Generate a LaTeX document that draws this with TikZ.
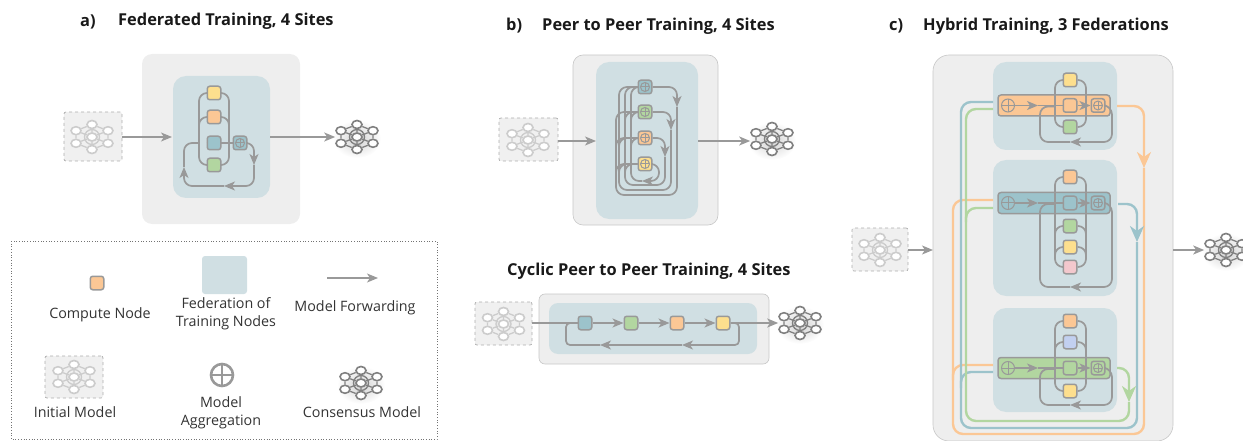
\documentclass[tikz,border=0pt]{standalone}
\usepackage{fontspec}
\setmainfont{Open Sans}
\usetikzlibrary{arrows.meta,shapes.geometric}
\definecolor{gcol}{HTML}{999999}
\definecolor{panelc}{HTML}{EEEEEE}
\definecolor{fedc}{HTML}{D0DFE3}
\definecolor{cblue}{HTML}{9CC3CB}
\definecolor{cgreen}{HTML}{B2D6A0}
\definecolor{corange}{HTML}{FBC795}
\definecolor{cyellow}{HTML}{FDDF8E}
\definecolor{cpink}{HTML}{F3C8CD}
\definecolor{cperi}{HTML}{C2D0F0}
\definecolor{txt}{HTML}{333333}
\pgfdeclarelayer{panel}
\pgfdeclarelayer{wires}
\pgfsetlayers{panel,wires,main}
\tikzset{
 outerbox/.style={fill=panelc,draw=none,rounded corners=10pt},
 fedbox/.style={fill=fedc,draw=none,rounded corners=13pt},
 cnode/.style={draw=gcol,line width=1.5pt,rounded corners=2.5pt,minimum size=13.5pt,inner sep=0pt},
 band/.style={draw=gcol,line width=1.5pt,rounded corners=3pt,minimum width=112pt,minimum height=21pt,inner sep=0pt},
 oplus/.style={circle,draw=gcol,line width=1pt,inner sep=0pt,minimum size=#1,
   path picture={\draw[gcol,line width=1pt] (path picture bounding box.north)--(path picture bounding box.south) (path picture bounding box.west)--(path picture bounding box.east);}},
 oplusbig/.style={circle,draw=gcol,line width=2.6pt,inner sep=0pt,minimum size=#1,
   path picture={\draw[gcol,line width=2.6pt] (path picture bounding box.north)--(path picture bounding box.south) (path picture bounding box.west)--(path picture bounding box.east);}},
 wire/.style={gcol,line width=1.7pt,rounded corners=8pt},
 arr/.style={-{Stealth[length=11pt,width=9pt,inset=3pt]}},
 fat/.style={line width=2.4pt,rounded corners=10pt},
 bigarr/.style={-{Stealth[length=16pt,width=14pt,inset=5pt]}},
 initbox/.style={fill=black!6,draw=black!32,dashed,line width=.7pt,rounded corners=2pt,inner sep=0pt},
 netn/.style={ellipse,fill=white,draw=#1,line width=1.6pt,minimum width=10pt,minimum height=8pt,inner sep=0pt},
 tlabel/.style={text=txt,font=\fontsize{14.3}{18}\selectfont,align=center,inner sep=0pt},
 ttl/.style={text=black!90,font=\fontsize{16.4}{18}\selectfont\bfseries,anchor=west,inner sep=0pt},
}
% name, x, y, colour
\newcommand{\neticon}[4]{%
 \begin{scope}[shift={(#2,#3)}]
 \node[netn=#4] (#1t) at (0,-12.5) {};
 \node[netn=#4] (#1b) at (0,12.5) {};
 \node[netn=#4] (#1c) at (0,0) {};
 \node[netn=#4] (#1l) at (-16,-6.3) {};
 \node[netn=#4] (#1m) at (-16,6.3) {};
 \node[netn=#4] (#1r) at (16,-6.3) {};
 \node[netn=#4] (#1s) at (16,6.3) {};
 \begin{pgfonlayer}{wires}
 \draw[#4,line width=1.3pt] (#1c) circle [radius=7.5];
 \draw[#4,line width=1.3pt] (#1t)--(#1c)--(#1b)
   (#1l)--(#1t)--(#1r) (#1m)--(#1b)--(#1s) (#1l)--(#1c) (#1m)--(#1c) (#1r)--(#1c) (#1s)--(#1c)
   (#1l)--(#1m) (#1r)--(#1s);
 \end{pgfonlayer}
 \end{scope}}
% consensus model: dark icon on a soft shadow
\newcommand{\consensus}[3]{%
 \begin{pgfonlayer}{wires}
 \shade[inner color=black!18,outer color=white] (#2,{#3+2}) ellipse [x radius=24,y radius=19];
 \end{pgfonlayer}
 \neticon{#1}{#2}{#3}{black!50}}
% federation unit of panel c: prefix, y, colour, bottom of loop
\newcommand{\bandfed}[4]{%
 \begin{pgfonlayer}{panel}
 \node[band,fill=#3] (#1band) at (1054,#2) {};
 \end{pgfonlayer}
 \node[oplus=13pt] (#1l) at (1008,#2) {};
 \node[cnode,fill=#3] (#1c) at (1070,#2) {};
 \node[cnode,fill=#3] (#1a) at (1098,#2) {};
 \node[oplus=9pt] at (#1a) {};
 \coordinate (#1m) at (1038,#2);
 \coordinate (#1d) at (1070,#4);
 \begin{pgfonlayer}{wires}
 \draw[wire,arr] (#1l.east)--(#1m);
 \draw[wire] (#1m)--(#1c.west);
 \draw[wire,arr] (#1c.east)--(#1a.west);
 \draw[wire,arr] (#1a.east)--(1112,{#2+1})--(1112,#4)--(#1d);
 \draw[wire] (#1d)--(1040,#4)--(1040,{#2+1})--(1055,{#2+1});
 \end{pgfonlayer}}
\begin{document}
\begin{tikzpicture}[x=1pt,y=-1pt]
\useasboundingbox (0,0) rectangle (1243,441);
%--- titles
\node[ttl] (ta) at (80,21.5) {a)};
\node[ttl] (tat) at (118,21.5) {Federated Training, 4 Sites};
\node[ttl] (tb) at (506,26) {b)};
\node[ttl] (tbt) at (542,26) {Peer to Peer Training, 4 Sites};
\node[ttl] (tc) at (889,26) {c)};
\node[ttl] (tct) at (923,26) {Hybrid Training, 3 Federations};
\node[ttl] (tcy) at (507,271.5) {Cyclic Peer to Peer Training, 4 Sites};
%--- panels
\begin{pgfonlayer}{panel}
\draw[outerbox] (142,54) rectangle (300,224);
\draw[fedbox] (173,76) rectangle (270,198);
\draw[outerbox,draw=black!22,line width=.6pt] (573,55) rectangle (718,225);
\draw[fedbox] (596,62) rectangle (698,219);
\draw[outerbox,draw=black!22,line width=.6pt,rounded corners=6pt] (539,294) rectangle (769,364);
\draw[fedbox,rounded corners=9pt] (549,303) rectangle (757,354);
\draw[outerbox,draw=black!22,line width=.6pt,rounded corners=16pt] (933,55) rectangle (1173,441);
\draw[fedbox] (993,62) rectangle (1117,150);
\draw[fedbox] (993,160) rectangle (1117,296);
\draw[fedbox] (993,308) rectangle (1117,412);
\node[initbox,minimum width=58pt,minimum height=49pt] (ai) at (93,136.5) {};
\node[initbox,minimum width=59pt,minimum height=43pt] (bi) at (528.5,139.5) {};
\node[initbox,minimum width=57pt,minimum height=43pt] (ci) at (503.5,323.5) {};
\node[initbox,minimum width=56pt,minimum height=43pt] (hi) at (880,249.5) {};
\node[initbox,minimum width=58pt,minimum height=42pt] (li) at (74,377) {};
\end{pgfonlayer}
%--- panel a
\neticon{ain}{92}{137}{black!20}
\consensus{aout}{357}{137}
\node[cnode,fill=cyellow] (a1) at (214,93) {};
\node[cnode,fill=corange] (a2) at (214,117) {};
\node[cnode,fill=cblue] (a3) at (214,143) {};
\node[cnode,fill=cgreen] (a4) at (214,165) {};
\node[cnode,fill=cblue] (ag) at (240,143) {};
\node[oplus=9pt] at (ag) {};
\coordinate (afl) at (172,137);
\coordinate (afr) at (270,137);
\coordinate (al1) at (254,165);
\coordinate (al2) at (224,186);
\coordinate (al3) at (184,167);
\begin{pgfonlayer}{wires}
\draw[wire,arr] (ai.east|-afl)--(afl);
\draw[wire,arr] (afr)--(aoutl.west|-afr);
\draw[wire] (a1.west)--(199,93)--(199,165)--(a4.west);
\draw[wire] (a1.east)--(229,93)--(229,165)--(a4.east);
\draw[wire] (a2.west)--(199,117)--(199,130);
\draw[wire] (a2.east)--(229,117)--(229,130);
\draw[wire] (a3.west)--(a3.east)--(ag.west);
\draw[wire,arr] (ag.east)--(254,143)--(al1);
\draw[wire,arr] (al1)--(254,186)--(al2);
\draw[wire,arr] (al2)--(184,186)--(al3);
\draw[wire] (al3)--(184,143)--(199,143);
\end{pgfonlayer}
%--- panel b
\neticon{bin}{528}{140}{black!20}
\consensus{bout}{772}{139}
\node[cnode,fill=cblue] (b1) at (645,87) {}; \node[oplus=9pt] at (b1) {};
\node[cnode,fill=cgreen] (b2) at (645,112) {}; \node[oplus=9pt] at (b2) {};
\node[cnode,fill=corange] (b3) at (645,138) {}; \node[oplus=9pt] at (b3) {};
\node[cnode,fill=cyellow] (b4) at (645,164) {}; \node[oplus=9pt] at (b4) {};
\coordinate (bfl) at (596,141);
\coordinate (bfr) at (698,141);
\coordinate (br1) at (677,107);
\coordinate (br2) at (671,130);
\coordinate (br3) at (665,157);
\coordinate (br4) at (642,181);
\begin{pgfonlayer}{wires}
\draw[wire,arr] (bi.east|-bfl)--(bfl);
\draw[wire,arr] (bfr)--(boutl.west|-bfr);
\draw[wire,arr] (b1.east)--(677,87)--(br1);
\draw[wire] (br1)--(677,195)--(616,195)--(616,112)--(b2.west);
\draw[wire,arr] (b2.east)--(671,112)--(br2);
\draw[wire] (br2)--(671,190)--(619,190)--(619,87)--(b1.west);
\draw[wire,arr] (b3.east)--(665,138)--(br3);
\draw[wire] (br3)--(665,185)--(625,185)--(625,87)--(b1.west);
\draw[wire,arr] (b4.east)--(659,164)--(659,181)--(br4);
\draw[wire] (br4)--(631,181)--(631,87)--(b1.west);
\draw[wire] (616,150)--(616,138)--(b3.west);
\draw[wire] (616,176)--(616,164)--(b4.west);
\draw[wire] (619,150)--(619,138)--(b3.west);
\draw[wire] (619,176)--(619,164)--(b4.west);
\draw[wire] (625,125)--(625,112)--(b2.west);
\draw[wire] (625,176)--(625,164)--(b4.west);
\draw[wire] (631,125)--(631,112)--(b2.west);
\draw[wire] (631,150)--(631,138)--(b3.west);
\end{pgfonlayer}
%--- cyclic panel
\neticon{cin}{503.5}{324}{black!20}
\consensus{cout}{800}{323}
\node[cnode,fill=cblue] (c1) at (585,323) {};
\node[cnode,fill=cgreen] (c2) at (631,323) {};
\node[cnode,fill=corange] (c3) at (677,323) {};
\node[cnode,fill=cyellow] (c4) at (723,323) {};
\coordinate (cr1) at (682,345);
\coordinate (cr2) at (600,345);
\begin{pgfonlayer}{wires}
\draw[wire] (ci.east|-c1)--(c1.west);
\draw[wire,arr] (c1.east)--(c2.west);
\draw[wire,arr] (c2.east)--(c3.west);
\draw[wire,arr] (c3.east)--(c4.west);
\draw[wire,arr] (c4.east)--(coutl.west|-c4);
\draw[wire,arr,rounded corners=4pt] (c4.east)--(739,323)--(739,345)--(cr1);
\draw[wire,arr] (cr1)--(cr2);
\draw[wire,rounded corners=4pt] (cr2)--(566,345)--(566,323)--(c1.west);
\end{pgfonlayer}
%--- hybrid panel
\neticon{hin}{880}{250}{black!20}
\consensus{hout}{1226}{250}
\coordinate (hfl) at (933,250);
\coordinate (hfr) at (1173,250);
\bandfed{f}{105.5}{corange}{142}
\bandfed{g}{203}{cblue}{287}
\bandfed{h}{368}{cgreen}{405}
\node[cnode,fill=cyellow] (f1) at (1070,80) {};
\node[cnode,fill=cgreen] (f2) at (1070,127) {};
\node[cnode,fill=corange] (g1) at (1070,177) {};
\node[cnode,fill=cgreen] (g2) at (1070,226) {};
\node[cnode,fill=cyellow] (g3) at (1070,247) {};
\node[cnode,fill=cpink] (g4) at (1070,267) {};
\node[cnode,fill=corange] (h1) at (1070,321) {};
\node[cnode,fill=cperi] (h2) at (1070,342) {};
\node[cnode,fill=cyellow] (h3) at (1070,391) {};
\coordinate (oa) at (1144,168);
\coordinate (ba) at (1137,242);
\coordinate (ga) at (1129,402);
\begin{pgfonlayer}{wires}
\draw[wire,arr] (hi.east|-hfl)--(hfl);
\draw[wire,arr] (hfr)--(houtl.west|-hfr);
% buses
\draw[wire] (f1.west)--(1055,80)--(1055,127)--(f2.west);
\draw[wire] (f1.east)--(1086,80)--(1086,127)--(f2.east);
\draw[wire] (g1.west)--(1055,177)--(1055,267)--(g4.west);
\draw[wire] (g1.east)--(1086,177)--(1086,267)--(g4.east);
\draw[wire] (g2.west)--(1055,226)--(1055,238);
\draw[wire] (g2.east)--(1086,226)--(1086,238);
\draw[wire] (g3.west)--(1055,247)--(1055,258);
\draw[wire] (g3.east)--(1086,247)--(1086,258);
\draw[wire] (h1.west)--(1055,321)--(1055,391)--(h3.west);
\draw[wire] (h1.east)--(1086,321)--(1086,391)--(h3.east);
\draw[wire] (h2.west)--(1055,342)--(1055,353);
\draw[wire] (h2.east)--(1086,342)--(1086,353);
% federation links
\draw[corange,fat,bigarr] (1117,106)--(1144,106)--(oa);
\draw[corange,fat] (oa)--(1144,434)--(953,434)--(953,200)--(993,200);
\draw[corange,fat] (953,380)--(953,365)--(993,365);
\draw[cblue,fat,bigarr] (1118,204)--(1137,204)--(ba);
\draw[cblue,fat] (ba)--(1137,428)--(961,428)--(961,102)--(993,102);
\draw[cblue,fat] (961,388)--(961,372)--(993,372);
\draw[cgreen,fat,bigarr] (1117,368)--(1129,368)--(ga);
\draw[cgreen,fat] (ga)--(1129,421)--(966,421)--(966,109)--(993,109);
\draw[cgreen,fat] (966,222)--(966,208)--(993,208);
\end{pgfonlayer}
%--- legend
\draw[black!55,dotted,line width=.7pt] (11,241) rectangle (437,439);
\node[cnode,fill=corange] (lc) at (97,283) {};
\node[tlabel] (lct) at (100,315) {Compute Node};
\node[fill=fedc,rounded corners=3pt,minimum width=45pt,minimum height=38pt,inner sep=0pt] (lf) at (224.5,275) {};
\node[tlabel] (lft) at (226,314) {Federation of\\Training Nodes};
\coordinate (la) at (327,278);
\coordinate (lb) at (378,278);
\draw[wire,arr] (la)--(lb);
\node[tlabel] (lmf) at (355,308) {Model Forwarding};
\neticon{lin}{74}{377}{black!20}
\node[tlabel] (lit) at (75,412.5) {Initial Model};
\node[oplusbig=22pt] (lo) at (222,375) {};
\node[tlabel] (lot) at (221,413) {Model\\Aggregation};
\consensus{lout}{361}{383}
\node[tlabel] (lct2) at (362,412) {Consensus Model};
\end{tikzpicture}
\end{document}
